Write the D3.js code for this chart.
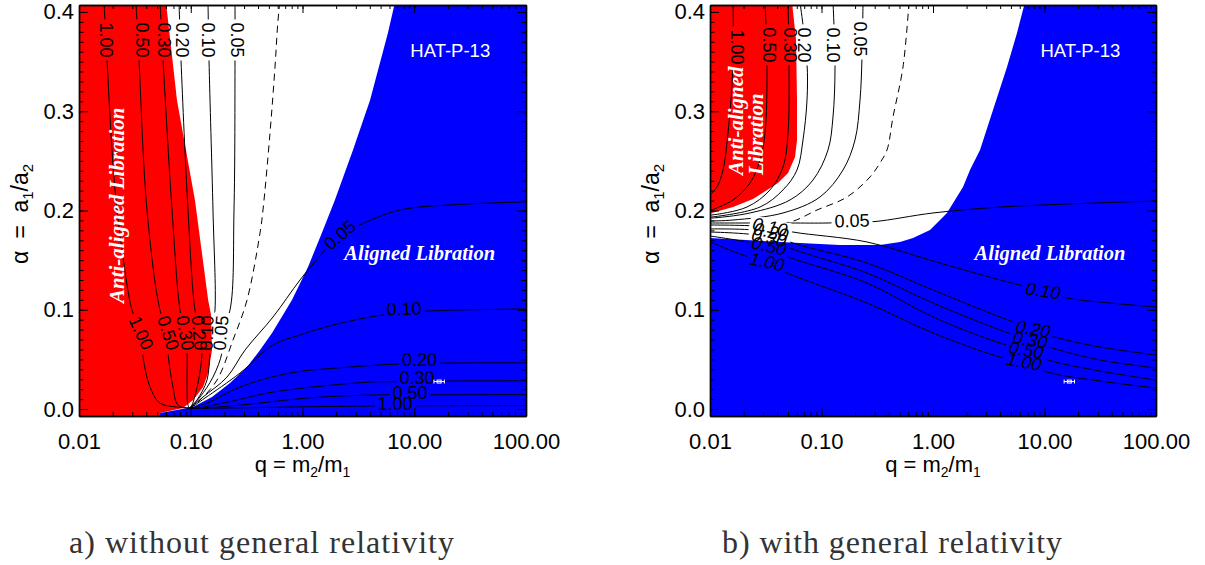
<!DOCTYPE html>
<html>
<head>
<meta charset="utf-8">
<title>Libration regions, HAT-P-13</title>
<script src="https://cdn.jsdelivr.net/npm/d3@7"></script>
<style>
  body { margin: 0; background: #fff; }
</style>
</head>
<body>
<svg id="chart" width="1205" height="565"></svg>
<script>
//------------------------------- DATA -------------------------------
// every point is [q = m2/m1, alpha = a1/a2]

var xTicks = [0.01, 0.1, 1, 10, 100];
var yTicks = [0.0, 0.1, 0.2, 0.3, 0.4];
var captions = ["a) without general relativity", "b) with general relativity"];
var hatQ = [15.0, 16.7, 18.6];   // HAT-P-13 mass ratio with error bar
var hatAlpha = 0.0277;

// panel a : without general relativity
var a_red = [[0.01,0.41],[0.06,0.41],[0.0753,0.311],[0.109,0.2106],[0.143,0.11],[0.152,0.0947],[0.155,0.0594],
  [0.143,0.0363],[0.129,0.0222],[0.105,0.0091],[0.0852,0.001],[0.0531,-0.004],[0.0531,-0.01],[0.01,-0.01]];
var a_blue = [[6.73,0.41],[5.82,0.379],[4.02,0.311],[2.83,0.261],[1.95,0.2106],[1.49,0.1773],[1.12,0.1431],
  [0.805,0.1098],[0.534,0.0766],[0.417,0.0594],[0.319,0.0423],[0.2245,0.0262],[0.155,0.0121],[0.1047,0.002],
  [0.0531,-0.004],[0.0531,-0.01],[100,-0.01],[100,0.41]];
var a_c100 = [[0.01674,0.41],[0.01781,0.3516],[0.01974,0.261],[0.02143,0.2106],[0.02476,0.1531],[0.0298,0.0997],
  [0.03588,0.0766],[0.03739,0.0524],[0.04319,0.0222],[0.05307,0.006],[0.07534,0.002],[0.0985,0.001],
  [0.276,0.0012],[0.95,0.0022],[4.02,0.003],[10.8,0.0033],[100,0.0035]];
var a_c050 = [[0.03236,0.41],[0.03443,0.3516],[0.04059,0.2005],[0.05307,0.0997],[0.06256,0.0766],[0.06256,0.0574],
  [0.06938,0.0222],[0.0769,0.004],[0.0985,0.001],[0.276,0.004],[1.097,0.0111],[4.02,0.0141],[13.84,0.0143],[100,0.0145]];
var a_c030 = [[0.0531,0.41],[0.0565,0.3516],[0.068,0.2005],[0.0801,0.0997],[0.0888,0.0766],[0.0926,0.0574],
  [0.0926,0.0222],[0.0945,0.004],[0.0985,0.001],[0.1944,0.006],[0.5445,0.0171],[4.02,0.0272],[7.16,0.0275],
  [19.64,0.0282],[100,0.0285]];
var a_c020 = [[0.0785,0.41],[0.0818,0.3516],[0.0945,0.2005],[0.1091,0.0997],[0.121,0.0766],[0.1261,0.0574],
  [0.1161,0.0262],[0.1026,0.004],[0.0985,0.001],[0.1398,0.006],[0.276,0.0222],[0.773,0.0363],[2.66,0.0423],
  [7.01,0.0453],[18.09,0.0463],[100,0.0465]];
var a_c010 = [[0.1427,0.41],[0.1457,0.3516],[0.1581,0.2005],[0.1648,0.0997],[0.1549,0.0766],[0.1487,0.0574],
  [0.1398,0.0292],[0.1137,0.0091],[0.0985,0.001],[0.1341,0.0111],[0.276,0.0363],[0.5445,0.0645],[0.9497,0.0746],
  [1.875,0.0846],[5.145,0.0947],[13.27,0.0987],[100,0.1008]];
var a_c005 = [[0.2489,0.41],[0.2489,0.3516],[0.2438,0.2005],[0.2245,0.0997],[0.1866,0.0766],[0.1904,0.0574],
  [0.1581,0.0322],[0.121,0.0121],[0.0985,0.001],[0.1287,0.0121],[0.211,0.0322],[0.306,0.0594],[0.5445,0.0927],
  [0.9497,0.13],[1.434,0.1542],[2.166,0.1753],[3.407,0.1864],[7.456,0.2005],[29.65,0.2065],[100,0.2086]];
var a_dash = [[0.629,0.41],[0.604,0.3919],[0.5675,0.3446],[0.512,0.2781],[0.443,0.2005],[0.4166,0.1773],
  [0.3187,0.1098],[0.2388,0.0695],[0.1718,0.0292],[0.121,0.0091],[0.0985,0.001]];
var a_labels = [["1.00",0.01743,0.3718],["0.50",0.0366,0.3718],["0.30",0.0576,0.3718],["0.20",0.0836,0.3718],
  ["0.10",0.1427,0.3718],["0.05",0.2594,0.3718],
  ["1.00",0.0359,0.0766],["0.50",0.0626,0.0766],["0.30",0.0888,0.0766],["0.20",0.1185,0.0766],
  ["0.10",0.1398,0.0766],["0.05",0.1866,0.0766],
  ["0.05",2.166,0.1753],["0.10",8.09,0.1008],["0.20",11.14,0.0494],["0.30",10.58,0.0312],
  ["0.50",9.16,0.0166],["1.00",6.73,0.0055]];

// panel b : with general relativity
var b_red = [[0.01,0.41],[0.0544,0.41],[0.0591,0.3718],[0.0603,0.3113],[0.0603,0.271],[0.0579,0.2539],
  [0.0501,0.2378],[0.0407,0.2277],[0.0325,0.2207],[0.0243,0.2116],[0.0161,0.2035],[0.0104,0.1975],[0.01,0.1975]];
var b_blue = [[0.01,0.1723],[0.0425,0.1683],[0.1466,0.1652],[0.3347,0.1652],[0.5058,0.1683],[0.6617,0.1723],
  [0.94,0.1804],[1.156,0.1904],[1.335,0.1975],[1.575,0.2106],[1.858,0.2237],[2.147,0.2408],[2.64,0.261],
  [3.453,0.3012],[4.611,0.3446],[5.668,0.3788],[6.686,0.41],[100,0.41],[100,-0.01],[0.01,-0.01]];
var b_c100 = [[0.01608,0.41],[0.01608,0.3466],[0.0145,0.2781],[0.01308,0.2408],[0.01156,0.2237],[0.01,0.2156]];
var b_c050 = [[0.03114,0.41],[0.03245,0.3446],[0.03114,0.2781],[0.02809,0.2509],[0.02284,0.2277],[0.01608,0.2106],
  [0.01042,0.2005],[0.01,0.1995]];
var b_c030 = [[0.05007,0.41],[0.05111,0.3486],[0.05007,0.2781],[0.04516,0.2438],[0.03452,0.2207],[0.02147,0.2035],
  [0.01042,0.1955],[0.01,0.1955]];
var b_c020 = [[0.06415,0.41],[0.07413,0.3486],[0.07413,0.3113],[0.06824,0.271],[0.06029,0.2408],[0.04516,0.2207],
  [0.02809,0.2035],[0.01042,0.1935],[0.01,0.1935]];
var b_c010 = [[0.1268,0.41],[0.1322,0.3446],[0.1268,0.2942],[0.1144,0.261],[0.08391,0.2307],[0.05218,0.2106],
  [0.02284,0.1975],[0.01042,0.1924],[0.01,0.1924]];
var b_c005 = [[0.2357,0.41],[0.2309,0.3547],[0.2215,0.3113],[0.1997,0.271],[0.1559,0.2408],[0.09694,0.2136],
  [0.04516,0.1975],[0.01608,0.1904],[0.01,0.1894]];
var b_dash = [[0.6093,0.41],[0.5382,0.3446],[0.4378,0.2942],[0.3868,0.261],[0.3347,0.2479],[0.2723,0.2338],
  [0.1693,0.2136],[0.09113,0.2005],[0.05218,0.1884],[0.02809,0.1874]];
var b_h005 = [[0.01,0.1874],[0.05218,0.1874],[0.112,0.1874],[0.1877,0.1884],[0.3019,0.1889],[1.0,0.1975],
  [3.991,0.2035],[15.92,0.2065],[100,0.2096]];
var b_l010 = [[0.01,0.1854],[0.03452,0.1834],[0.05551,0.1783],[0.2559,0.1683],[1.0,0.1491],[3.991,0.13],
  [9.694,0.1189],[15.92,0.1118],[38.68,0.1068],[100,0.1028]];
var b_l020 = [[0.01,0.1814],[0.03452,0.1783],[0.05218,0.1683],[0.2559,0.1471],[1.0,0.1199],[3.991,0.0927],
  [7.887,0.0806],[12.42,0.0725],[31.47,0.0625],[100,0.0544]];
var b_l030 = [[0.01,0.1783],[0.03313,0.1733],[0.05218,0.1622],[0.2559,0.137],[1.0,0.1068],[3.991,0.0796],
  [7.413,0.0695],[11.68,0.0615],[31.47,0.0494],[100,0.0413]];
var b_l050 = [[0.01,0.1743],[0.03381,0.1632],[0.04516,0.1552],[0.2559,0.127],[1.0,0.0927],[3.991,0.0665],
  [6.825,0.0594],[10.75,0.0494],[31.47,0.0383],[100,0.0292]];
var b_l100 = [[0.01,0.1683],[0.01858,0.1562],[0.03245,0.1471],[0.04905,0.137],[0.2559,0.1068],[1.0,0.0766],
  [3.991,0.0524],[6.549,0.0474],[10.53,0.0373],[31.47,0.0282],[100,0.0212]];
var b_labels = [["1.00",0.01746,0.3647],["0.50",0.03381,0.3668],["0.30",0.05218,0.3668],["0.20",0.06966,0.3668],
  ["0.10",0.1268,0.3668],["0.05",0.2215,0.3728],
  ["0.05",0.1877,0.1894],
  ["0.10",0.03452,0.1834],["0.20",0.03524,0.1783],["0.30",0.03381,0.1723],["0.50",0.03381,0.1642],["1.00",0.03245,0.1481],
  ["0.10",9.694,0.1189],["0.20",7.887,0.0806],["0.30",7.413,0.0695],["0.50",6.825,0.0594],["1.00",6.549,0.0474]];

//------------------------------- LAYOUT / STYLE -------------------------------
var W = 1205, H = 565;
var yTop = 5, yBot = 416;
var sans = "'Liberation Sans', Arial, Helvetica, sans-serif";
var serif = "'Liberation Serif', 'Times New Roman', serif";

// label orientation: [angle, italic]
var a_labelStyle = [[90,0],[90,0],[90,0],[90,0],[90,0],[90,0],
  [65,0],[72,0],[80,0],[85,0],[-88,0],[-85,0],
  [-40,0],[-2,0],[0,0],[0,0],[0,0],[0,0]];
var b_labelStyle = [[90,0],[90,0],[90,0],[90,0],[90,0],[90,0],
  [-2,0],
  [12,1],[12,1],[12,1],[12,1],[12,1],
  [9,1],[10,1],[10,1],[10,1],[10,1]];

var panels = [
  { id: "a", x0: 79, x1: 526, red: a_red, blue: a_blue,
    lines: [a_c100, a_c050, a_c030, a_c020, a_c010, a_c005], dashed: a_dash,
    labels: a_labels, styles: a_labelStyle,
    anti: [[0.0253, 0.1068, "Anti-aligned Libration"]], caption: captions[0], capX: 69, capLen: 385 },
  { id: "b", x0: 710, x1: 1156, red: b_red, blue: b_blue,
    lines: [b_c100, b_c050, b_c030, b_c020, b_c010, b_c005, b_h005, b_l010, b_l020, b_l030, b_l050, b_l100], dashed: b_dash,
    labels: b_labels, styles: b_labelStyle,
    anti: [[0.01977, 0.2358, "Anti-aligned"], [0.02988, 0.2358, "Libration"]], caption: captions[1], capX: 722, capLen: 340 }
];

var svg = d3.select("#chart");
svg.append("rect").attr("width", W).attr("height", H).attr("fill", "#fff");
var defs = svg.append("defs");

panels.forEach(function(p) {
  var x = d3.scaleLog().domain([0.01, 100]).range([p.x0, p.x1]);
  var y = d3.scaleLinear().domain([-0.007, 0.407]).range([yBot, yTop]);

  defs.append("clipPath").attr("id", "clip-" + p.id)
    .append("rect").attr("x", p.x0).attr("y", yTop).attr("width", p.x1 - p.x0).attr("height", yBot - yTop);

  var mask = defs.append("mask").attr("id", "mask-" + p.id)
    .attr("maskUnits", "userSpaceOnUse").attr("x", 0).attr("y", 0).attr("width", W).attr("height", H);
  mask.append("rect").attr("width", W).attr("height", H).attr("fill", "#fff");

  var plot = svg.append("g").attr("clip-path", "url(#clip-" + p.id + ")");

  //---------------- regions ----------------
  var poly = d3.line().x(function(d) { return x(d[0]); }).y(function(d) { return y(d[1]); });
  plot.append("path").attr("d", poly(p.red) + "Z").attr("fill", "#ff0000");
  plot.append("path").attr("d", poly(p.blue) + "Z").attr("fill", "#0000ff");

  //---------------- contours ----------------
  var curve = d3.line().x(function(d) { return x(d[0]); }).y(function(d) { return y(d[1]); })
    .curve(d3.curveCatmullRom.alpha(0.5));
  var cg = plot.append("g").attr("mask", "url(#mask-" + p.id + ")")
    .attr("fill", "none").attr("stroke", "#000").attr("stroke-width", 1);
  p.lines.forEach(function(l) { cg.append("path").attr("d", curve(l)); });
  cg.append("path").attr("d", curve(p.dashed)).attr("stroke-dasharray", "7,5");

  //---------------- contour labels (gap cut through the mask) ----------------
  var lg = plot.append("g").attr("font-family", sans).attr("font-size", 18).attr("fill", "#000");
  p.labels.forEach(function(d, i) {
    var st = p.styles[i];
    var cx = x(d[1]), cy = y(d[2]);
    var rot = "rotate(" + st[0] + "," + cx + "," + cy + ")";
    var t = lg.append("text").attr("x", cx).attr("y", cy)
      .attr("text-anchor", "middle").attr("dominant-baseline", "central")
      .attr("font-style", st[1] ? "italic" : "normal")
      .attr("transform", rot).text(d[0]);
    var w = t.node().getComputedTextLength();
    mask.append("rect").attr("x", cx - w / 2 - 3).attr("y", cy - 8).attr("width", w + 6).attr("height", 16)
      .attr("transform", rot).attr("fill", "#000");
  });

  //---------------- region names ----------------
  p.anti.forEach(function(a) {
    var ax = x(a[0]), ay = y(a[1]);
    plot.append("text").attr("x", ax).attr("y", ay).attr("transform", "rotate(-90," + ax + "," + ay + ")")
      .attr("font-family", serif).attr("font-weight", "bold").attr("font-style", "italic")
      .attr("font-size", 21).attr("fill", "#fff").text(a[2]);
  });
  plot.append("text").attr("x", x(11.2)).attr("y", y(0.1501)).attr("text-anchor", "middle")
    .attr("font-family", serif).attr("font-weight", "bold").attr("font-style", "italic")
    .attr("font-size", 20.5).attr("fill", "#fff").text("Aligned Libration");
  plot.append("text").attr("x", x(21)).attr("y", y(0.3547)).attr("text-anchor", "middle")
    .attr("font-family", sans).attr("font-size", 18.5).attr("fill", "#fff").text("HAT-P-13");

  //---------------- HAT-P-13 marker ----------------
  var hy = y(hatAlpha);
  var hg = plot.append("g").attr("stroke", "#fff").attr("stroke-width", 1).attr("fill", "none");
  hg.append("line").attr("x1", x(hatQ[0])).attr("x2", x(hatQ[2])).attr("y1", hy).attr("y2", hy);
  hg.append("line").attr("x1", x(hatQ[0])).attr("x2", x(hatQ[0])).attr("y1", hy - 2).attr("y2", hy + 2);
  hg.append("line").attr("x1", x(hatQ[2])).attr("x2", x(hatQ[2])).attr("y1", hy - 2).attr("y2", hy + 2);
  hg.append("rect").attr("x", x(hatQ[1]) - 2).attr("y", hy - 1.5).attr("width", 4).attr("height", 3);

  //---------------- axes (IDL style: inward ticks on all four sides) ----------------
  var axes = svg.append("g");
  function styleAxis(g) {
    g.attr("font-family", sans).attr("font-size", 22).attr("color", "#000");
    g.select(".domain").attr("stroke-width", 1.4);
  }
  axes.append("g").attr("transform", "translate(0," + yBot + ")")
    .call(d3.axisBottom(x).tickValues(xTicks).tickSize(-8).tickSizeOuter(0).tickPadding(17).tickFormat(d3.format(".2f")))
    .call(styleAxis);
  axes.append("g").attr("transform", "translate(0," + yBot + ")")
    .call(d3.axisBottom(x).tickValues(x.ticks()).tickSize(-4).tickSizeOuter(0).tickFormat(""))
    .call(styleAxis);
  axes.append("g").attr("transform", "translate(0," + yTop + ")")
    .call(d3.axisTop(x).tickValues(xTicks).tickSize(-8).tickSizeOuter(0).tickFormat(""))
    .call(styleAxis);
  axes.append("g").attr("transform", "translate(0," + yTop + ")")
    .call(d3.axisTop(x).tickValues(x.ticks()).tickSize(-4).tickSizeOuter(0).tickFormat(""))
    .call(styleAxis);
  axes.append("g").attr("transform", "translate(" + p.x0 + ",0)")
    .call(d3.axisLeft(y).tickValues(yTicks).tickSize(-9).tickSizeOuter(0).tickPadding(5).tickFormat(d3.format(".1f")))
    .call(styleAxis);
  axes.append("g").attr("transform", "translate(" + p.x0 + ",0)")
    .call(d3.axisLeft(y).tickValues(y.ticks(40)).tickSize(-4.5).tickSizeOuter(0).tickFormat(""))
    .call(styleAxis);
  axes.append("g").attr("transform", "translate(" + p.x1 + ",0)")
    .call(d3.axisRight(y).tickValues(yTicks).tickSize(-9).tickSizeOuter(0).tickFormat(""))
    .call(styleAxis);
  axes.append("g").attr("transform", "translate(" + p.x1 + ",0)")
    .call(d3.axisRight(y).tickValues(y.ticks(40)).tickSize(-4.5).tickSizeOuter(0).tickFormat(""))
    .call(styleAxis);

  //---------------- axis titles ----------------
  var xt = svg.append("text").attr("x", (p.x0 + p.x1) / 2).attr("y", 472).attr("text-anchor", "middle")
    .attr("font-family", sans).attr("font-size", 22).attr("fill", "#000");
  xt.append("tspan").text("q = m");
  xt.append("tspan").attr("dy", 5).attr("font-size", 14).text("2");
  xt.append("tspan").attr("dy", -5).text("/m");
  xt.append("tspan").attr("dy", 5).attr("font-size", 14).text("1");

  var ytx = p.x0 - 51, yty = 214;
  var yt = svg.append("text").attr("x", ytx).attr("y", yty).attr("text-anchor", "middle")
    .attr("transform", "rotate(-90," + ytx + "," + yty + ")")
    .attr("font-family", sans).attr("font-size", 23).attr("fill", "#000").attr("word-spacing", 6);
  yt.append("tspan").text("\u03b1 = a");
  yt.append("tspan").attr("dy", 5).attr("font-size", 15).text("1");
  yt.append("tspan").attr("dy", -5).text("/a");
  yt.append("tspan").attr("dy", 5).attr("font-size", 15).text("2");

  //---------------- caption ----------------
  svg.append("text").attr("x", p.capX).attr("y", 553)
    .attr("font-family", serif).attr("font-size", 32).attr("fill", "#333")
    .attr("textLength", p.capLen).attr("lengthAdjust", "spacing").text(p.caption);
});
</script>
</body>
</html>
